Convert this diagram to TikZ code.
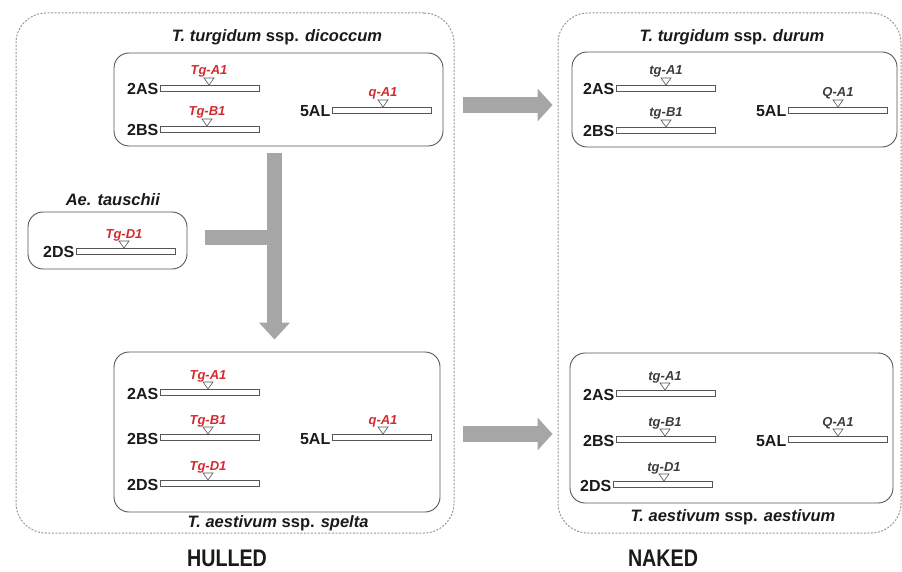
\documentclass[tikz,border=0pt]{standalone}
\usepackage{fontspec}
\setmainfont{Liberation Sans}
\usetikzlibrary{arrows.meta}
\definecolor{genered}{HTML}{D42A2F}
\definecolor{arrowgray}{HTML}{A6A6A6}
\definecolor{dashgray}{HTML}{8E99A4}
\definecolor{boxline}{HTML}{555555}
\definecolor{textdark}{HTML}{1A1A1A}
\tikzset{
 region/.style={draw=dashgray, line width=1pt, dash pattern=on 2pt off 1.5pt, rounded corners=30pt, inner sep=0pt},
 genome/.style={draw=boxline, line width=0.9pt, rounded corners=15pt, inner sep=0pt},
 chrbar/.style={draw=boxline, fill=white, line width=0.7pt, minimum width=99pt, minimum height=6pt, inner sep=0pt},
 chrlabel/.style={font=\fontsize{16}{18}\selectfont\bfseries, text=textdark, inner sep=1.5pt},
 redgene/.style={font=\fontsize{13}{15}\selectfont\bfseries\itshape, text=genered, inner sep=0pt, anchor=base},
 blackgene/.style={font=\fontsize{13}{15}\selectfont\bfseries\itshape, text=textdark!85, inner sep=0pt, anchor=base},
 titletext/.style={font=\fontsize{16.5}{18}\selectfont\bfseries, text=textdark},
 bigarrow/.style={draw=arrowgray, line width=16pt, -{Triangle[length=15pt,width=32pt]}},
 trimark/.style={draw=boxline, fill=white, line width=0.6pt, line join=miter},
 bigword/.style={font=\fontsize{24}{27}\selectfont\bfseries, text=textdark},
}
% #1 id, #2 x left, #3 y, #4 label, #5 triangle x, #6 gene, #7 gene style
\newcommand{\chrom}[7]{%
 \node[chrbar, anchor=west] (#1) at (#2,#3) {};
 \node[chrlabel, anchor=base east, yshift=-7pt] (#1-lab) at (#1.west) {#4};
 \draw[trimark] (#5-5,#3-10) -- (#5+5,#3-10) -- (#5,#3-3) -- cycle;
 \node[#7] (#1-gene) at (#5,#3-13) {#6};
}
\begin{document}
\begin{tikzpicture}[x=1pt,y=-1pt]
\useasboundingbox (0,0) rectangle (902,572);
% regions
\node[region, minimum width=438pt, minimum height=520pt] (hulled) at (235,273) {};
\node[region, minimum width=343pt, minimum height=520pt] (naked) at (729.5,273) {};
% genome boxes
\node[genome, minimum width=329pt, minimum height=93pt] (dic) at (278.5,99.5) {};
\node[genome, minimum width=325pt, minimum height=95pt] (dur) at (734.5,99.5) {};
\node[genome, minimum width=159pt, minimum height=57pt] (tau) at (107.5,240.5) {};
\node[genome, minimum width=326pt, minimum height=160pt] (spe) at (277,432) {};
\node[genome, minimum width=323pt, minimum height=150pt] (aes) at (731.5,428) {};
% titles
\node[titletext] (dic-t) at (277,37) {\textit{T. turgidum} ssp. \textit{dicoccum}};
\node[titletext] (dur-t) at (732,37) {\textit{T. turgidum} ssp. \textit{durum}};
\node[titletext] (tau-t) at (113,200) {\textit{Ae. tauschii}};
\node[titletext] (spe-t) at (278,523) {\textit{T. aestivum} ssp. \textit{spelta}};
\node[titletext] (aes-t) at (733,517) {\textit{T. aestivum} ssp. \textit{aestivum}};
% chromosomes
\chrom{d2a}{160}{88}{2AS}{209}{Tg-A1}{redgene}
\chrom{d2b}{160}{129}{2BS}{207}{Tg-B1}{redgene}
\chrom{d5a}{332}{110}{5AL}{383}{q-A1}{redgene}
\chrom{u2a}{616}{88}{2AS}{666}{tg-A1}{blackgene}
\chrom{u2b}{616}{130}{2BS}{666}{tg-B1}{blackgene}
\chrom{u5a}{788}{110}{5AL}{838}{Q-A1}{blackgene}
\chrom{t2d}{76}{251}{2DS}{124}{Tg-D1}{redgene}
\chrom{s2a}{160}{392}{2AS}{208}{Tg-A1}{redgene}
\chrom{s2b}{160}{437}{2BS}{208}{Tg-B1}{redgene}
\chrom{s2d}{160}{483}{2DS}{208}{Tg-D1}{redgene}
\chrom{s5a}{332}{437}{5AL}{383}{q-A1}{redgene}
\chrom{a2a}{616}{393}{2AS}{665}{tg-A1}{blackgene}
\chrom{a2b}{616}{439}{2BS}{665}{tg-B1}{blackgene}
\chrom{a2d}{613}{484}{2DS}{664}{tg-D1}{blackgene}
\chrom{a5a}{788}{439}{5AL}{838}{Q-A1}{blackgene}
% arrows
\coordinate (join) at (275,237.5);
\draw[draw=arrowgray, line width=15pt] ([xshift=18pt,yshift=3pt]tau.east) -- (join);
\draw[bigarrow, line width=15pt, -{Triangle[length=17pt,width=30pt]}] ([xshift=-4pt,yshift=-7pt]dic.south) -- ([xshift=-2.5pt,yshift=12pt]spe.north);
\draw[bigarrow] ([xshift=20pt,yshift=-5.5pt]dic.east) -- ([xshift=-19pt,yshift=-5.5pt]dur.west);
\draw[bigarrow] ([xshift=23pt,yshift=-2pt]spe.east) -- ([xshift=-17pt,yshift=-6pt]aes.west);
% bottom labels
\node[bigword] (hull) at (227,558) {\scalebox{0.82}[1]{HULLED}};
\node[bigword] (nake) at (663,558) {\scalebox{0.82}[1]{NAKED}};
\end{tikzpicture}
\end{document}
